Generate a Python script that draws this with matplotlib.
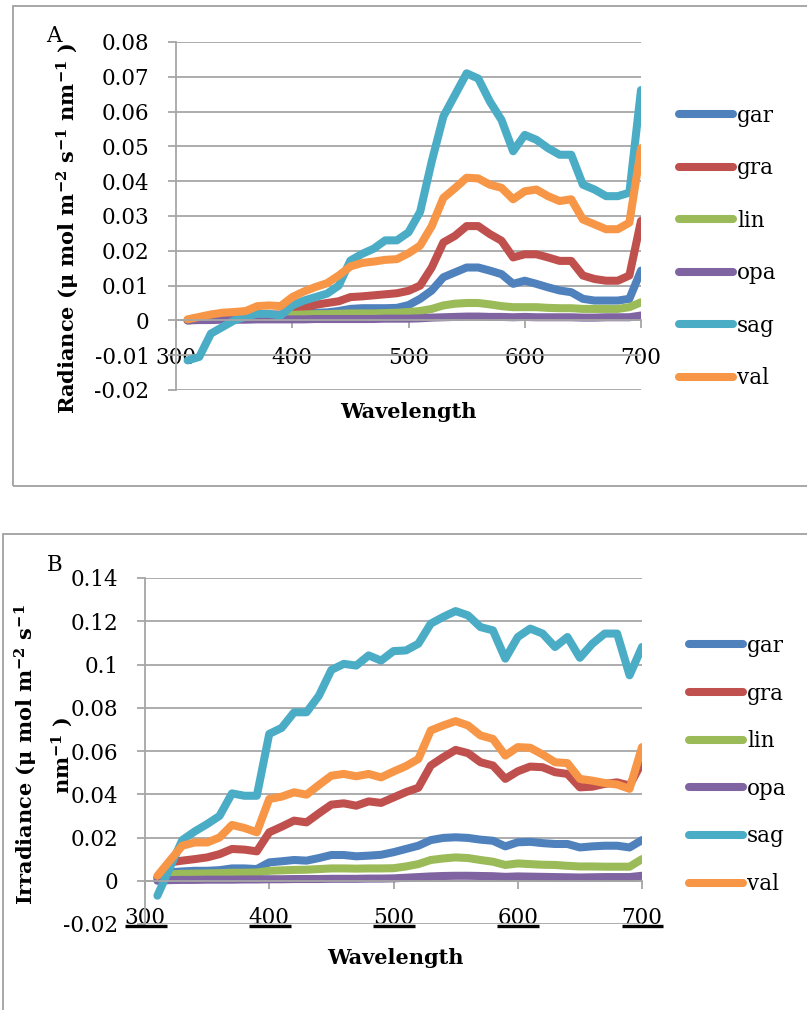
import matplotlib
matplotlib.use("Agg")
import matplotlib.pyplot as plt
from matplotlib.lines import Line2D
from matplotlib.patches import Rectangle

plt.rcParams['font.family'] = ['DejaVu Serif']
plt.rcParams['mathtext.fontset'] = 'dejavuserif'

# wavelengths (nm)
wl = [310, 320, 330, 340, 350, 360, 370, 380, 390, 400,
      410, 420, 430, 440, 450, 460, 470, 480, 490, 500,
      510, 520, 530, 540, 550, 560, 570, 580, 590, 600,
      610, 620, 630, 640, 650, 660, 670, 680, 690, 700]

names = ['gar', 'gra', 'lin', 'opa', 'sag', 'val']
colors = ['#4F81BD', '#C0504D', '#9BBB59', '#8064A2', '#4BACC6', '#F79646']

# Panel A - radiance
gar_A = [0.0000, 0.0003, 0.0006, 0.0008, 0.0010, 0.0011, 0.0013, 0.0014, 0.0015, 0.0018,
         0.0020, 0.0022, 0.0023, 0.0027, 0.0033, 0.0035, 0.0035, 0.0035, 0.0036, 0.0044,
         0.0062, 0.0086, 0.0124, 0.0138, 0.0152, 0.0152, 0.0143, 0.0133, 0.0105, 0.0114,
         0.0105, 0.0095, 0.0086, 0.0081, 0.0062, 0.0057, 0.0057, 0.0057, 0.0062, 0.0143]
gra_A = [0.0001, 0.0004, 0.0008, 0.0010, 0.0012, 0.0014, 0.0016, 0.0017, 0.0017, 0.0020,
         0.0036, 0.0045, 0.0050, 0.0055, 0.0067, 0.0069, 0.0072, 0.0075, 0.0078, 0.0085,
         0.0100, 0.0152, 0.0224, 0.0243, 0.0271, 0.0271, 0.0248, 0.0229, 0.0181, 0.0190,
         0.0190, 0.0181, 0.0171, 0.0171, 0.0129, 0.0119, 0.0114, 0.0114, 0.0129, 0.0286]
lin_A = [0.0000, 0.0003, 0.0006, 0.0008, 0.0010, 0.0011, 0.0012, 0.0013, 0.0014, 0.0016,
         0.0017, 0.0018, 0.0018, 0.0019, 0.0020, 0.0020, 0.0020, 0.0021, 0.0022, 0.0024,
         0.0027, 0.0033, 0.0043, 0.0048, 0.0050, 0.0050, 0.0046, 0.0041, 0.0038, 0.0038,
         0.0038, 0.0036, 0.0035, 0.0035, 0.0033, 0.0033, 0.0033, 0.0033, 0.0038, 0.0052]
opa_A = [0.0000, 0.0001, 0.0001, 0.0002, 0.0002, 0.0002, 0.0003, 0.0003, 0.0003, 0.0003,
         0.0003, 0.0004, 0.0004, 0.0004, 0.0004, 0.0004, 0.0004, 0.0005, 0.0005, 0.0005,
         0.0006, 0.0008, 0.0009, 0.0010, 0.0011, 0.0011, 0.0010, 0.0010, 0.0009, 0.0010,
         0.0009, 0.0009, 0.0009, 0.0009, 0.0008, 0.0008, 0.0009, 0.0009, 0.0009, 0.0014]
sag_A = [-0.0115, -0.0105, -0.0038, -0.0019, 0.0000, 0.0011, 0.0019, 0.0019, 0.0014, 0.0043,
         0.0057, 0.0067, 0.0077, 0.0100, 0.0172, 0.0191, 0.0206, 0.0230, 0.0230, 0.0253,
         0.0312, 0.0457, 0.0586, 0.0648, 0.0710, 0.0695, 0.0629, 0.0576, 0.0486, 0.0533,
         0.0519, 0.0495, 0.0476, 0.0476, 0.0390, 0.0376, 0.0357, 0.0357, 0.0367, 0.0662]
val_A = [0.0003, 0.0010, 0.0017, 0.0022, 0.0024, 0.0027, 0.0041, 0.0043, 0.0041, 0.0067,
         0.0083, 0.0096, 0.0107, 0.0129, 0.0155, 0.0165, 0.0169, 0.0174, 0.0176, 0.0193,
         0.0215, 0.0271, 0.0352, 0.0380, 0.0410, 0.0408, 0.0390, 0.0381, 0.0348, 0.0371,
         0.0376, 0.0357, 0.0343, 0.0348, 0.0290, 0.0276, 0.0262, 0.0262, 0.0281, 0.0495]

# Panel B - irradiance
gar_B = [0.0012, 0.0039, 0.0043, 0.0046, 0.0046, 0.0049, 0.0057, 0.0057, 0.0054, 0.0085,
         0.0090, 0.0096, 0.0093, 0.0105, 0.0119, 0.0119, 0.0113, 0.0116, 0.0120, 0.0132,
         0.0147, 0.0162, 0.0188, 0.0198, 0.0201, 0.0198, 0.0190, 0.0185, 0.0159, 0.0178,
         0.0180, 0.0174, 0.0170, 0.0170, 0.0154, 0.0159, 0.0162, 0.0162, 0.0154, 0.0188]
gra_B = [0.0015, 0.0085, 0.0093, 0.0100, 0.0108, 0.0123, 0.0147, 0.0144, 0.0136, 0.0224,
         0.0250, 0.0278, 0.0270, 0.0312, 0.0352, 0.0358, 0.0347, 0.0367, 0.0360, 0.0385,
         0.0410, 0.0430, 0.0533, 0.0571, 0.0605, 0.0590, 0.0548, 0.0533, 0.0471, 0.0506,
         0.0528, 0.0525, 0.0502, 0.0494, 0.0432, 0.0435, 0.0448, 0.0455, 0.0440, 0.0548]
lin_B = [0.0010, 0.0030, 0.0032, 0.0033, 0.0034, 0.0035, 0.0037, 0.0037, 0.0038, 0.0046,
         0.0048, 0.0050, 0.0051, 0.0054, 0.0057, 0.0057, 0.0056, 0.0057, 0.0057, 0.0058,
         0.0066, 0.0077, 0.0096, 0.0103, 0.0108, 0.0105, 0.0096, 0.0088, 0.0073, 0.0080,
         0.0077, 0.0074, 0.0073, 0.0069, 0.0066, 0.0066, 0.0065, 0.0065, 0.0065, 0.0100]
opa_B = [0.0000, 0.0003, 0.0004, 0.0004, 0.0005, 0.0005, 0.0005, 0.0006, 0.0006, 0.0007,
         0.0007, 0.0008, 0.0008, 0.0008, 0.0009, 0.0009, 0.0009, 0.0010, 0.0010, 0.0011,
         0.0014, 0.0017, 0.0020, 0.0022, 0.0023, 0.0023, 0.0022, 0.0021, 0.0018, 0.0020,
         0.0019, 0.0018, 0.0017, 0.0016, 0.0015, 0.0016, 0.0017, 0.0017, 0.0017, 0.0023]
sag_B = [-0.0069, 0.0060, 0.0188, 0.0228, 0.0262, 0.0300, 0.0404, 0.0393, 0.0393, 0.0679,
         0.0707, 0.0779, 0.0779, 0.0856, 0.0975, 0.1003, 0.0995, 0.1042, 0.1018, 0.1062,
         0.1065, 0.1096, 0.1189, 0.1220, 0.1247, 0.1227, 0.1173, 0.1158, 0.1027, 0.1127,
         0.1166, 0.1143, 0.1081, 0.1127, 0.1031, 0.1096, 0.1143, 0.1143, 0.0950, 0.1081]
val_B = [0.0023, 0.0093, 0.0162, 0.0177, 0.0177, 0.0200, 0.0258, 0.0244, 0.0224, 0.0378,
         0.0389, 0.0409, 0.0398, 0.0443, 0.0486, 0.0494, 0.0483, 0.0494, 0.0478, 0.0505,
         0.0530, 0.0563, 0.0695, 0.0718, 0.0738, 0.0718, 0.0672, 0.0656, 0.0579, 0.0618,
         0.0615, 0.0584, 0.0548, 0.0544, 0.0471, 0.0463, 0.0452, 0.0445, 0.0425, 0.0618]

xticks = [300, 400, 500, 600, 700]
yticks_A = [-0.02, -0.01, 0, 0.01, 0.02, 0.03, 0.04, 0.05, 0.06, 0.07, 0.08]
yticks_B = [-0.02, 0, 0.02, 0.04, 0.06, 0.08, 0.1, 0.12, 0.14]

W, H = 807, 1010
GRID = '#A6A6A6'
FS = 15.5


def px_rect(x0, y0, x1, y1):
    # pixel box (top-left origin) to figure fraction
    return [x0 / W, 1 - y1 / H, (x1 - x0) / W, (y1 - y0) / H]


def fmt(v):
    s = ('%.2f' % v).rstrip('0').rstrip('.')
    return '0' if s in ('0', '-0') else s


def make_panel(fig, rect, series, yticks, leg_x, leg_y, leg_space):
    ax = fig.add_axes(rect)
    for name, col, ys in zip(names, colors, series):
        ax.plot(wl, ys, color=col, lw=5.8, label=name,
                solid_joinstyle='round', solid_capstyle='round')
    ax.set_xlim(300, 700)
    ax.set_ylim(yticks[0], yticks[-1])
    ax.set_xticks(xticks)
    ax.set_xticklabels([str(t) for t in xticks])
    ax.set_yticks(yticks)
    ax.set_yticklabels([fmt(v) for v in yticks])
    ax.yaxis.grid(True, color=GRID, lw=1.3)
    ax.set_axisbelow(True)
    for s in ['top', 'right']:
        ax.spines[s].set_visible(False)
    ax.spines['left'].set_color(GRID)
    ax.spines['left'].set_linewidth(1.3)
    ax.spines['bottom'].set_position(('data', 0))
    ax.spines['bottom'].set_color(GRID)
    ax.spines['bottom'].set_linewidth(1.3)
    ax.tick_params(axis='both', direction='out', length=6, width=1.3,
                   color=GRID, labelsize=FS, labelcolor='black')
    ax.tick_params(axis='y', pad=13)
    ax.tick_params(axis='x', pad=13)
    ax.legend(loc='center left', bbox_to_anchor=(leg_x / W, 1 - leg_y / H),
              bbox_transform=fig.transFigure, frameon=False, fontsize=FS,
              handlelength=2.5, handletextpad=0.2, borderpad=0,
              borderaxespad=0, labelspacing=leg_space)
    return ax


fig = plt.figure(figsize=(W / 100, H / 100), dpi=100)

# outer boxes
fig.add_artist(Rectangle((13 / W, 1 - 486 / H), 1.0, 480 / H, transform=fig.transFigure,
                         fill=False, ec='#A0A0A0', lw=1.3))
fig.add_artist(Rectangle((3 / W, -0.1), 1.0, 1 - 534 / H + 0.1, transform=fig.transFigure,
                         fill=False, ec='#A0A0A0', lw=1.3))

axA = make_panel(fig, px_rect(176, 42, 641, 390),
                 [gar_A, gra_A, lin_A, opa_A, sag_A, val_A], yticks_A, 679, 247, 1.42)
axB = make_panel(fig, px_rect(145, 578, 642, 924),
                 [gar_B, gra_B, lin_B, opa_B, sag_B, val_B], yticks_B, 689, 765, 1.19)

# labels
fig.text(54 / W, 1 - 36 / H, 'A', fontsize=FS, ha='center', va='center')
fig.text(55 / W, 1 - 565 / H, 'B', fontsize=FS, ha='center', va='center')

ylab_A = r'Radiance ($\mathbf{\mu}$ mol m$^{\mathbf{-2}}$ s$^{\mathbf{-1}}$ nm$^{\mathbf{-1}}$ )'
ylab_B = (r'Irradiance ($\mathbf{\mu}$ mol m$^{\mathbf{-2}}$ s$^{\mathbf{-1}}$' + '\n'
          + r'nm$^{\mathbf{-1}}$ )')
fig.text(68 / W, 1 - 228 / H, ylab_A, rotation=90, fontsize=15, fontweight='bold',
         ha='center', va='center')
fig.text(44 / W, 1 - 755 / H, ylab_B, rotation=90, fontsize=15, fontweight='bold',
         ha='center', va='center', multialignment='center', linespacing=1.45)
fig.text(408 / W, 1 - 412 / H, 'Wavelength', fontsize=15, fontweight='bold',
         ha='center', va='center')
fig.text(395 / W, 1 - 958 / H, 'Wavelength', fontsize=15, fontweight='bold',
         ha='center', va='center')

# underline the x tick labels of panel B
fig.canvas.draw()
renderer = fig.canvas.get_renderer()
for lab in axB.get_xticklabels():
    bb = lab.get_window_extent(renderer)
    y = bb.y0 + 3
    fig.add_artist(Line2D([bb.x0, bb.x1 + 1], [y, y], transform=None,
                          color='black', lw=2.4, solid_capstyle='butt'))

fig.savefig('out.png', dpi=100)
